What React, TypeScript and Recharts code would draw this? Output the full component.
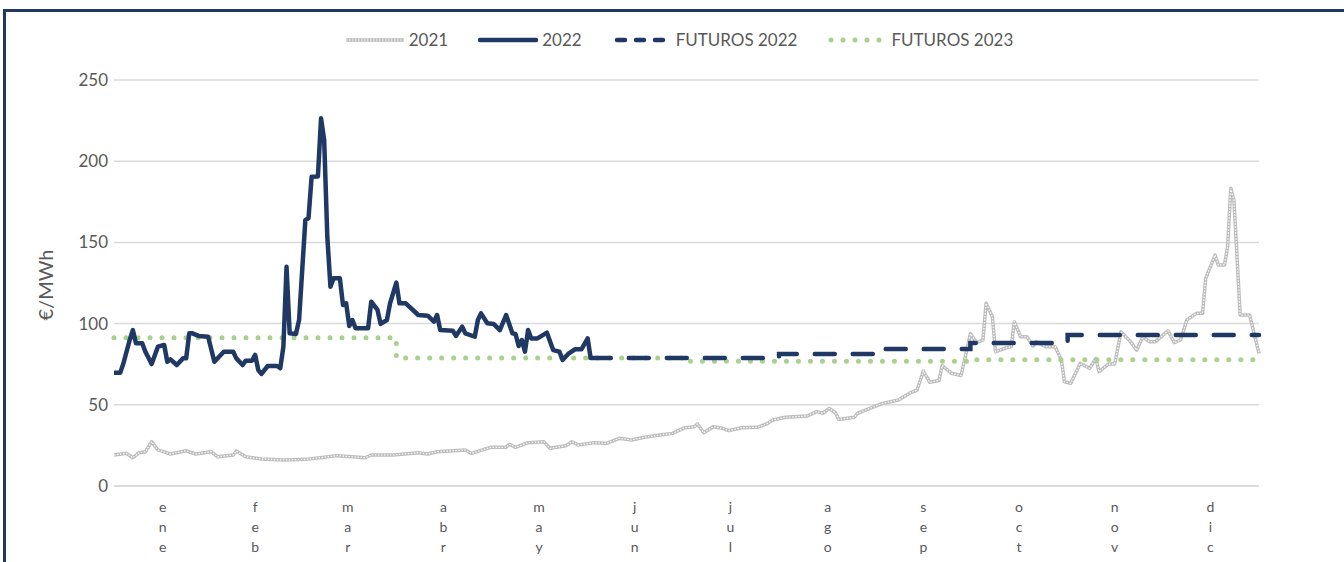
import React from 'react';
import { LineChart, Line, XAxis, YAxis, CartesianGrid, Legend } from 'recharts';

const NAVY = '#1F3864';
const GREEN = '#A9D18E';
const GREY = '#BDBDBD';
const TEXT = '#595959';
const FONT = 'Lato, "Liberation Sans", sans-serif';

const months = ['ene', 'feb', 'mar', 'abr', 'may', 'jun', 'jul', 'ago', 'sep', 'oct', 'nov', 'dic'];
const monthMid = [15.5, 45, 74.5, 105, 135.5, 166, 196.5, 227.5, 258, 288.5, 319, 349.5];
const yTicks = [0, 50, 100, 150, 200, 250];

// [día del año, €/MWh]
const pool2021 = [
  [0, 19.1], [4, 20.1], [6, 17.4], [8, 20.5], [10, 21.1], [12, 27.3], [14, 22.2], [18, 19.7], [23, 21.7],
  [26, 19.7], [31, 21.1], [33, 18], [38, 19.1], [39, 21.5], [42, 18], [47, 16.6], [54, 16], [61, 16.4],
  [67, 17.7], [71, 18.7], [76, 18], [80, 17.4], [82, 19.1], [89, 19.1], [97, 20.5], [100, 19.7], [103, 21.1],
  [112, 22.2], [114, 20.1], [120, 23.8], [125, 23.8], [126, 25.7], [128, 23.8], [132, 26.7], [137, 27.3],
  [139, 23.2], [144, 24.8], [146, 27.3], [148, 25.2], [153, 26.7], [157, 26.3], [161, 29.4], [165, 28.3],
  [169, 30], [174, 31.4], [178, 32.4], [182, 35.9], [185, 36.5], [186, 38.2], [188, 32.8], [191, 36.5],
  [194, 35.5], [196, 34.1], [200, 35.9], [205, 36.1], [208, 38.2], [210, 40.6], [214, 42.3], [221, 43.1],
  [224, 45.8], [226, 44.8], [228, 47.8], [230, 45.1], [231, 41], [236, 42.3], [237, 44.8], [241, 47.8],
  [245, 50.9], [250, 53], [254, 57.5], [256, 59.1], [258, 70.8], [260, 63.9], [263, 65], [264, 74.2],
  [267, 69.4], [270, 68], [271, 76.5], [273, 93.7], [275, 88.2], [277, 89.9], [278, 112.5], [280, 104.2],
  [281, 82.7], [284, 84.8], [286, 85.8], [287, 101.2], [289, 91.9], [291, 91.9], [293, 86.2], [294, 88.9],
  [297, 85.8], [300, 85.8], [302, 77.6], [303, 64.2], [305, 63.2], [306, 67.3], [308, 75.5], [311, 72.5],
  [313, 78.6], [314, 70.4], [317, 75.1], [319, 75.1], [321, 95], [324, 88.9], [326, 83.7], [328, 91.9],
  [330, 88.9], [332, 88.9], [336, 95.6], [338, 88.2], [340, 89.9], [342, 102.2], [345, 106.3], [347, 106.3],
  [348, 127.9], [351, 142.2], [352, 136.1], [354, 136.1], [355, 147.4], [356, 183.3], [357, 176.1],
  [359, 105.3], [362, 105.3], [365, 81.7],
];

const pool2022 = [
  [0, 69.8], [2, 69.8], [3, 75.5], [5, 89.9], [6, 96], [7, 87.9], [9, 87.9], [10, 82.7], [12, 75.1],
  [14, 85.8], [16, 86.8], [17, 76.5], [18, 78], [20, 74.5], [22, 78.6], [23, 78.6], [24, 94], [25, 94],
  [27, 92.4], [30, 91.9], [32, 76.5], [35, 82.7], [38, 82.7], [39, 78.6], [41, 74.5], [42, 77.2], [44, 77.2],
  [45, 80.7], [46, 71.4], [47, 69], [49, 73.9], [52, 73.9], [53, 72.5], [54, 85.8], [55, 135], [56, 94],
  [58, 93.6], [59, 102.2], [61, 163.8], [62, 164.8], [63, 190.5], [65, 190.6], [66, 226.4], [67, 213],
  [68, 153.5], [69, 122.7], [70, 127.9], [72, 127.9], [73, 111.5], [74, 112.5], [75, 98.5], [76, 102.2],
  [77, 97.1], [81, 97.1], [82, 113.5], [84, 108.4], [85, 99.8], [87, 102.2], [88, 112.5], [90, 125.2],
  [91, 112.5], [93, 112.5], [97, 105.3], [100, 104.9], [102, 101.2], [103, 105.3], [104, 96], [108, 95.6],
  [109, 92.4], [111, 98.1], [112, 94], [115, 91.9], [116, 102.2], [117, 106.3], [119, 100.2], [121, 99.8],
  [123, 96], [125, 105.3], [127, 94], [128, 93.6], [129, 86.2], [130, 89.9], [131, 82.7], [132, 96],
  [133, 90.9], [135, 90.9], [138, 94.4], [140, 83.7], [142, 82.7], [143, 77.6], [145, 81.7], [147, 84.2],
  [149, 84.2], [151, 90.9], [152, 78],
];

const futuros2022 = [[152, 78.8], [212, 81.3], [243, 84.4], [273, 88.1], [304, 93.0], [365, 93.0]];
const futuros2023 = [[0, 91.3], [90, 78.8], [181, 76.8], [273, 77.8], [365, 77.8]];

const toRows = (arr: number[][]) => arr.map(([d, v]) => ({ d, v }));

const MonthTick = (props: any) => {
  const { x, y, payload } = props;
  const label = months[monthMid.indexOf(payload.value)] || '';
  return (
    <text x={x} y={y} textAnchor="middle" fill={TEXT} fontSize={14} fontFamily={FONT}>
      {label.split('').map((ch, i) => (
        <tspan key={i} x={x} dy={i === 0 ? 18 : 20}>{ch}</tspan>
      ))}
    </text>
  );
};

const legendItems = [
  { name: '2021', kind: 'grey' },
  { name: '2022', kind: 'solid' },
  { name: 'FUTUROS 2022', kind: 'dash' },
  { name: 'FUTUROS 2023', kind: 'dot' },
];

const LegendIcon = ({ kind }: { kind: string }) => (
  <svg width={60} height={10} style={{ display: 'block' }}>
    {kind === 'grey' && (
      <>
        <line x1={1} y1={5} x2={59} y2={5} stroke={GREY} strokeWidth={3.5} />
        <line x1={1} y1={5} x2={59} y2={5} stroke="#fff" strokeWidth={1.2} strokeDasharray="1.5 1.5" />
      </>
    )}
    {kind === 'solid' && <line x1={2} y1={5} x2={58} y2={5} stroke={NAVY} strokeWidth={4.5} strokeLinecap="round" />}
    {kind === 'dash' && (
      <line x1={5} y1={5} x2={56} y2={5} stroke={NAVY} strokeWidth={4.5} strokeLinecap="round" strokeDasharray="8 11" />
    )}
    {kind === 'dot' && (
      <line x1={4} y1={5} x2={58} y2={5} stroke={GREEN} strokeWidth={5} strokeLinecap="round" strokeDasharray="0 12" />
    )}
  </svg>
);

const ChartLegend = () => (
  <div style={{ position: 'relative', height: 0 }}>
    <div
      style={{
        position: 'absolute', top: 0, left: 0, width: 1344, display: 'flex', justifyContent: 'center',
        alignItems: 'center', gap: 30, paddingLeft: 14, boxSizing: 'border-box',
        fontFamily: FONT, fontSize: 17, color: TEXT,
      }}
    >
      {legendItems.map((it) => (
        <div key={it.name} style={{ display: 'flex', alignItems: 'center', gap: 4 }}>
          <LegendIcon kind={it.kind} />
          <span>{it.name}</span>
        </div>
      ))}
    </div>
  </div>
);

export default function App() {
  return (
    <div style={{ position: 'absolute', left: 0, top: 0, width: 1344, height: 562, background: '#fff', overflow: 'hidden' }}>
      <div
        style={{
          position: 'absolute', left: 3, top: 9, width: 1400, height: 600,
          borderLeft: `3px solid ${NAVY}`, borderTop: `3px solid ${NAVY}`,
        }}
      />
      <LineChart width={1344} height={562} margin={{ top: 80, right: 85, bottom: 0, left: 54 }} style={{ position: 'absolute', left: 0, top: 0 }}>
        <CartesianGrid vertical={false} stroke="#D9D9D9" strokeWidth={1.5} />
        <XAxis
          dataKey="d"
          type="number"
          domain={[0, 365]}
          ticks={monthMid}
          interval={0}
          tickLine={false}
          axisLine={{ stroke: '#D9D9D9', strokeWidth: 1.5 }}
          height={76}
          tick={<MonthTick />}
          allowDuplicatedCategory={false}
        />
        <YAxis
          domain={[0, 250]}
          ticks={yTicks}
          axisLine={false}
          tickLine={false}
          tickMargin={0}
          width={60}
          tick={{ fill: TEXT, fontSize: 17, fontFamily: FONT }}
          label={{
            content: () => (
              <text x={45} y={285} transform="rotate(-90 45 285)" textAnchor="middle" dominantBaseline="central"
                fill={TEXT} fontSize={20} fontFamily={FONT}>
                €/MWh
              </text>
            ),
          }}
        />
        <Legend verticalAlign="top" wrapperStyle={{ top: 29, left: 0, width: 1344 }} content={() => <ChartLegend />} />
        <Line data={toRows(pool2021)} dataKey="v" name="2021" stroke={GREY} strokeWidth={3.5} dot={false}
          isAnimationActive={false} strokeLinejoin="round" />
        <Line data={toRows(pool2021)} dataKey="v" name="2021 textura" stroke="#fff" strokeWidth={1.2}
          strokeDasharray="1.5 1.5" dot={false} isAnimationActive={false} legendType="none" />
        <Line data={toRows(futuros2023)} dataKey="v" name="FUTUROS 2023" type="stepAfter" stroke={GREEN}
          strokeWidth={5} strokeLinecap="round" strokeDasharray="0 12" dot={false} isAnimationActive={false} />
        <Line data={toRows(futuros2022)} dataKey="v" name="FUTUROS 2022" type="stepAfter" stroke={NAVY}
          strokeWidth={4.5} strokeLinecap="round" strokeDasharray="20 18" dot={false} isAnimationActive={false} />
        <Line data={toRows(pool2022)} dataKey="v" name="2022" stroke={NAVY} strokeWidth={4.5} dot={false}
          isAnimationActive={false} strokeLinejoin="round" />
      </LineChart>
    </div>
  );
}
